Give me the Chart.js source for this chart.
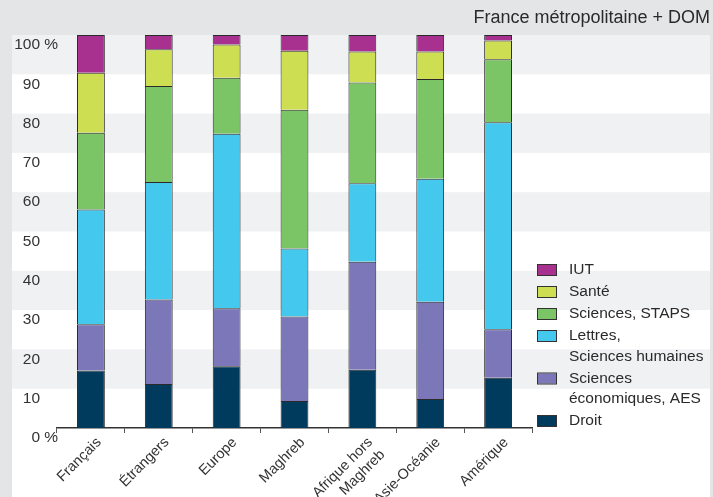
<!DOCTYPE html>
<html>
<head>
<meta charset="utf-8">
<script src="https://cdn.jsdelivr.net/npm/chart.js@4/dist/chart.umd.min.js"></script>
<style>
  body { margin: 0; background: #e4e5e7; }
  #wrap { width: 713px; height: 497px; position: relative; }
</style>
</head>
<body>
<div id="wrap"><canvas id="chart" width="713" height="497"></canvas></div>
<script>
// Categories (x axis)
const categories = ["Français", "Étrangers", "Europe", "Maghreb", ["Afrique hors", "Maghreb"], "Asie-Océanie", "Amérique"];

// Series, bottom to top of each stack (in %)
const droit = [14.6, 11.2, 15.7, 6.9, 14.8, 7.4, 12.8];
const sciencesEco = [11.8, 21.5, 14.8, 21.5, 27.5, 24.7, 12.3];
const lettres = [29.2, 29.9, 44.4, 17.3, 20.0, 31.3, 52.7];
const sciencesStaps = [19.5, 24.4, 14.2, 35.3, 25.6, 25.4, 16.0];
const sante = [15.3, 9.4, 8.5, 15.0, 7.9, 7.0, 4.8];
const iut = [9.6, 3.6, 2.4, 4.0, 4.2, 4.2, 1.4];

// Y tick values
const yTicks = [0, 10, 20, 30, 40, 50, 60, 70, 80, 90, 100];

// Legend labels, top to bottom
const legendLabels = [["IUT"], ["Santé"], ["Sciences, STAPS"], ["Lettres,", "Sciences humaines"], ["Sciences", "économiques, AES"], ["Droit"]];

const subtitle = "France métropolitaine + DOM";
const FONT = "'Liberation Sans', Arial, sans-serif";

const colors = {
  droit: "#003a5c",
  eco: "#7b77b8",
  lettres: "#44c8ee",
  staps: "#7cc566",
  sante: "#cede52",
  iut: "#a8308e"
};

function makeSet(label, data, color) {
  return {
    label: label,
    data: data,
    backgroundColor: color,
    borderColor: "#2a2a2a",
    borderWidth: 1,
    barPercentage: 0.41,
    categoryPercentage: 1
  };
}

// Background stripes, y labels, legend and subtitle
const decorPlugin = {
  id: "decor",
  beforeDraw(chart) {
    const ctx = chart.ctx;
    const y = chart.scales.y;
    ctx.save();
    ctx.fillStyle = "#ffffff";
    ctx.fillRect(12, 35, 698, 462);
    ctx.fillStyle = "#f0f1f3";
    for (let v = 100; v > 0; v -= 20) {
      const top = y.getPixelForValue(v);
      const bottom = y.getPixelForValue(v - 10);
      ctx.fillRect(12, top, 698, bottom - top);
    }
    ctx.restore();
  },
  afterDraw(chart) {
    const ctx = chart.ctx;
    const y = chart.scales.y;
    ctx.save();
    ctx.font = "15.5px " + FONT;
    ctx.fillStyle = "#333333";
    ctx.textBaseline = "middle";
    yTicks.forEach(function(v) {
      const py = y.getPixelForValue(v) + 10;
      ctx.textAlign = "right";
      ctx.fillText(String(v), 40, py);
      if (v === 0 || v === 100) {
        ctx.textAlign = "left";
        ctx.fillText(" %", 40, py);
      }
    });

    // subtitle
    ctx.textAlign = "right";
    ctx.fillStyle = "#2a2a2a";
    ctx.font = "18px " + FONT;
    ctx.fillText(subtitle, 710, 18);

    // legend (reverse of dataset order)
    ctx.font = "15.5px " + FONT;
    const sets = chart.data.datasets.slice().reverse();
    let ly = 270;
    ctx.textAlign = "left";
    sets.forEach(function(ds, i) {
      ctx.fillStyle = ds.backgroundColor;
      ctx.fillRect(537.5, ly - 5, 19, 10);
      ctx.strokeStyle = "#333333";
      ctx.lineWidth = 1;
      ctx.strokeRect(537.5, ly - 5.5, 19, 11);
      ctx.fillStyle = "#2a2a2a";
      legendLabels[i].forEach(function(line, j) {
        ctx.fillText(line, 569, ly + j * 20.5);
      });
      ly += 22 + (legendLabels[i].length - 1) * 20.5;
    });
    ctx.restore();
  }
};

const chart = new Chart(document.getElementById("chart"), {
  type: "bar",
  data: {
    labels: categories,
    datasets: [
      makeSet("Droit", droit, colors.droit),
      makeSet("Sciences économiques, AES", sciencesEco, colors.eco),
      makeSet("Lettres, Sciences humaines", lettres, colors.lettres),
      makeSet("Sciences, STAPS", sciencesStaps, colors.staps),
      makeSet("Santé", sante, colors.sante),
      makeSet("IUT", iut, colors.iut)
    ]
  },
  options: {
    responsive: false,
    animation: false,
    layout: { padding: { left: 57, right: 181, top: 35, bottom: 0 } },
    plugins: {
      legend: { display: false },
      tooltip: { enabled: false }
    },
    scales: {
      x: {
        stacked: true,
        afterFit: function(scale) { scale.height = 69; },
        grid: {
          display: true,
          drawOnChartArea: false,
          drawTicks: true,
          tickLength: 5,
          color: "#555555",
          offset: true
        },
        border: { display: true, color: "#333333", width: 1.5 },
        ticks: {
          minRotation: 45,
          maxRotation: 45,
          padding: 1,
          labelOffset: 8,
          color: "#333333",
          font: { family: FONT, size: 14.5 }
        }
      },
      y: {
        stacked: true,
        display: false,
        min: 0,
        max: 100
      }
    }
  },
  plugins: [decorPlugin]
});
</script>
</body>
</html>
